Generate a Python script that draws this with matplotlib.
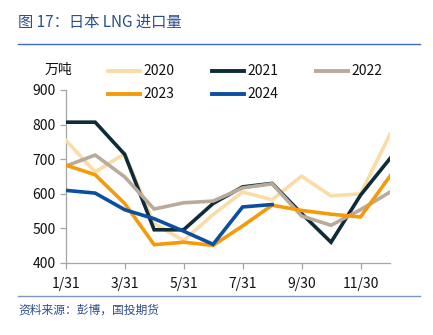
import matplotlib
matplotlib.use("Agg")
import matplotlib.pyplot as plt
from matplotlib.lines import Line2D

plt.rcParams['font.family'] = ['Noto Sans CJK SC', 'DejaVu Sans']

months = list(range(12))
tick_pos = [0, 2, 4, 6, 8, 10]
tick_labels = ["1/31", "3/31", "5/31", "7/31", "9/30", "11/30"]

y2020 = [755, 663, 716, 514, 465, 540, 605, 583, 651, 594, 600, 772]
y2021 = [807, 807, 714, 496, 496, 572, 620, 630, 543, 460, 596, 702]
y2022 = [680, 712, 649, 556, 574, 579, 617, 629, 536, 509, 554, 605]
y2023 = [683, 655, 572, 453, 460, 451, 507, 567, 552, 541, 533, 651]
y2024 = [610, 602, 554, 528, 492, 454, 562, 569]

series = [
    ("2020", y2020, "#FADDA6"),
    ("2021", y2021, "#0E2B3A"),
    ("2022", y2022, "#BAAA9C"),
    ("2023", y2023, "#F59A0A"),
    ("2024", y2024, "#0B4EA2"),
]

W, H = 433, 335
fig = plt.figure(figsize=(W / 100, H / 100), dpi=100)
ax = fig.add_axes([65.7 / W, 1 - 263 / H, (390 - 65.7) / W, (263 - 90) / H])

for name, vals, col in series:
    ax.plot(months[:len(vals)], vals, color=col, lw=2.6, solid_joinstyle='miter', zorder=3)

ax.set_xlim(0, 11)
ax.set_ylim(400, 900)
ax.set_yticks([400, 500, 600, 700, 800, 900])
ax.set_xticks(tick_pos)
ax.set_xticklabels(tick_labels)
for s in ["top", "right"]:
    ax.spines[s].set_visible(False)
for s in ["left", "bottom"]:
    ax.spines[s].set_color("#A6A6A6")
    ax.spines[s].set_linewidth(0.9)
ax.tick_params(axis='both', colors="#A6A6A6", labelcolor="#111111", labelsize=10,
               length=4, width=0.9, direction='out')
ax.tick_params(axis='x', pad=6)
ax.tick_params(axis='y', pad=3)

fig.text(45 / W, 1 - 70 / H, "万吨", fontsize=10, color="#111111", va='center', ha='left')

leg_pos = [(108, 71), (212, 71), (316, 71), (108, 94), (212, 94)]
for (x, y), (n, _, c) in zip(leg_pos, series):
    fig.add_artist(Line2D([x / W, (x + 32) / W], [1 - y / H, 1 - y / H], color=c, lw=2.8,
                          transform=fig.transFigure))
    fig.text((x + 35) / W, 1 - y / H, n, fontsize=10, color="#111111", va='center', ha='left')

fig.text(18 / W, 1 - 22 / H, "图 17：日本 LNG 进口量", fontsize=11, color="#2B4E8C",
         va='center', ha='left')
fig.add_artist(Line2D([18 / W, 420 / W], [1 - 44 / H, 1 - 44 / H], color="#3F6CC0", lw=1.0,
                      transform=fig.transFigure))
fig.add_artist(Line2D([18 / W, 420 / W], [1 - 296 / H, 1 - 296 / H], color="#7D97C4", lw=1.0,
                      transform=fig.transFigure))
fig.text(18 / W, 1 - 310 / H, "资料来源：彭博，国投期货", fontsize=8.5, color="#2B4E8C",
         va='center', ha='left', style='italic')

fig.savefig("out.png", dpi=100, facecolor="white")
